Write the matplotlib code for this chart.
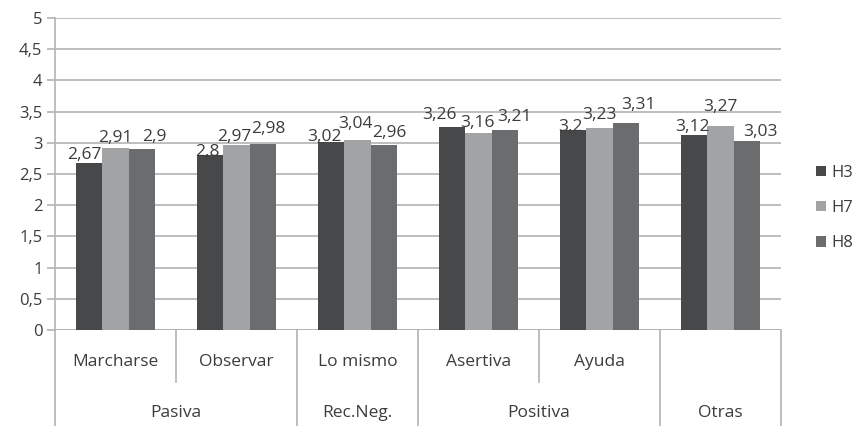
import matplotlib
matplotlib.use("Agg")
import matplotlib.pyplot as plt
import numpy as np

subcategories = ["Marcharse", "Observar", "Lo mismo", "Asertiva", "Ayuda", ""]
groups = ["Pasiva", "Rec.Neg.", "Positiva", "Otras"]
group_spans = [(0, 1), (2, 2), (3, 4), (5, 5)]
series_names = ["H3", "H7", "H8"]
h3 = [2.67, 2.80, 3.02, 3.26, 3.20, 3.12]
h7 = [2.91, 2.97, 3.04, 3.16, 3.23, 3.27]
h8 = [2.90, 2.98, 2.96, 3.21, 3.31, 3.03]
yticks = [0, 0.5, 1, 1.5, 2, 2.5, 3, 3.5, 4, 4.5, 5]

# label placement nudges (pixels), per series, per category
label_dx = [[-5, -3, -7, -13, -3, -2],
            [0, -2, -2, -1, 0, 0],
            [13, 6, 6, 10, 13, 14]]
label_dy = [[8, 3, 5, 12, 3, 8],
            [10, 8, 16, 10, 13, 19],
            [12, 15, 12, 13, 18, 9]]

colors = ["#474849", "#a2a3a5", "#6b6c6e"]
txt = "#3c3c3c"
grid = "#b3b3b3"

plt.rcParams['font.family'] = ['Open Sans', 'DejaVu Sans']

W, H = 853, 426
fig = plt.figure(figsize=(W / 100, H / 100), dpi=100)
L, R, T, B = 55, 781, 18, 330
ax = fig.add_axes([L / W, (H - B) / H, (R - L) / W, (B - T) / H])

n = len(subcategories)
x = np.arange(n)
bw = 0.215
data = [h3, h7, h8]
for k, (vals, c, name) in enumerate(zip(data, colors, series_names)):
    ax.bar(x + (k - 1) * bw, vals, width=bw, color=c, label=name, zorder=3)
    for i, (xi, v) in enumerate(zip(x, vals)):
        s = ("%g" % v).replace(".", ",")
        ax.annotate(s, (xi + (k - 1) * bw, v),
                    xytext=(label_dx[k][i] * 0.72, label_dy[k][i] * 0.72),
                    textcoords="offset points",
                    ha="center", va="center", fontsize=12.5, color=txt, zorder=4)

ax.set_xlim(-0.5, n - 0.5)
ax.set_ylim(0, 5)
ax.set_yticks(yticks)
ax.set_yticklabels([("%g" % t).replace(".", ",") for t in yticks], fontsize=12, color=txt)
ax.yaxis.grid(True, color=grid, linewidth=1.2, zorder=0)
ax.tick_params(axis="y", length=6, color=grid, width=1.2, pad=3)
ax.set_xticks([])
for s in ["top", "right", "bottom"]:
    ax.spines[s].set_visible(False)
ax.spines["left"].set_color(grid)
ax.spines["left"].set_linewidth(1.2)
ax.axhline(0, color=grid, linewidth=1.2, zorder=2)

tr = ax.get_xaxis_transform()
ph = B - T
row1_bottom = -52 / ph
full_bottom = -100 / ph
for xi, lab in zip(x, subcategories):
    ax.text(xi, -32 / ph, lab, transform=tr, ha="center", va="center", fontsize=12.5, color=txt)
for g, (a, b) in zip(groups, group_spans):
    ax.text((a + b) / 2, -83 / ph, g, transform=tr, ha="center", va="center", fontsize=12.5, color=txt)
group_edges = [-0.5] + [b + 0.5 for (a, b) in group_spans]
for e in group_edges:
    ax.plot([e, e], [0, full_bottom], transform=tr, color=grid, linewidth=1.2, clip_on=False)
for (a, b) in group_spans:
    for e in range(a, b):
        ax.plot([e + 0.5, e + 0.5], [0, row1_bottom], transform=tr, color=grid, linewidth=1.2, clip_on=False)

handles, labels = ax.get_legend_handles_labels()
leg = fig.legend(handles, labels, loc="center left", bbox_to_anchor=(801 / W, 1 - 208 / H),
                 frameon=False, fontsize=12, handlelength=0.6, handleheight=0.6,
                 labelspacing=1.15, handletextpad=0.35)
for t in leg.get_texts():
    t.set_color(txt)

fig.savefig("out.png", dpi=100)
